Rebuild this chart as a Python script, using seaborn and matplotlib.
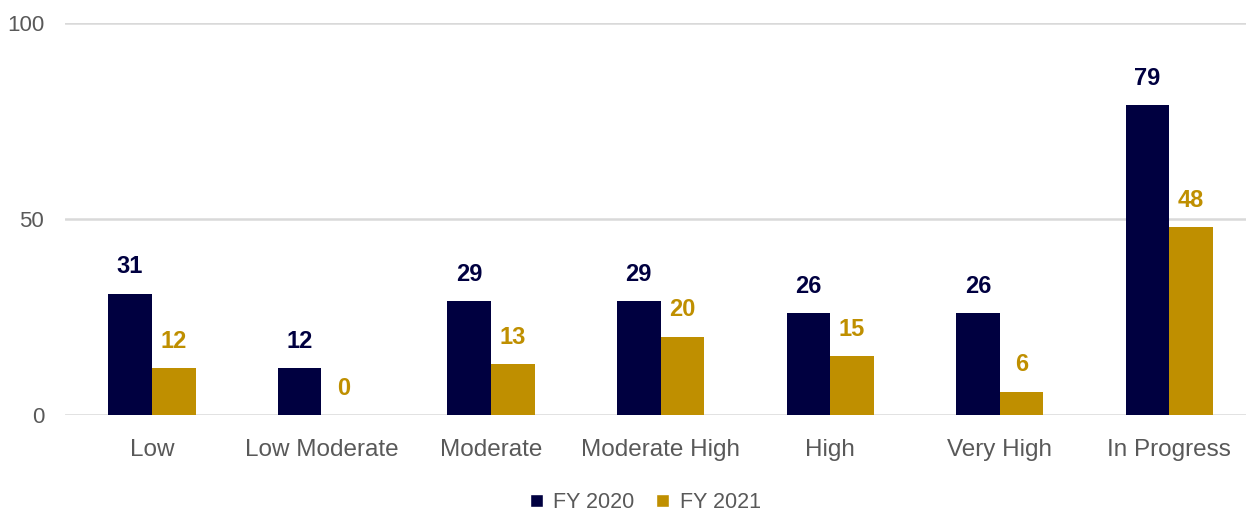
import matplotlib
matplotlib.use("Agg")
import matplotlib.pyplot as plt
import seaborn as sns
import pandas as pd
from matplotlib.patches import Patch

categories = ["Low", "Low Moderate", "Moderate", "Moderate High", "High", "Very High", "In Progress"]
fy2020 = [31, 12, 29, 29, 26, 26, 79]
fy2021 = [12, 0, 13, 20, 15, 6, 48]
series = ["FY 2020", "FY 2021"]
colors = ["#000040", "#BF8F00"]
yticks = [0, 50, 100]

df = pd.DataFrame({
    "category": categories * 2,
    "value": fy2020 + fy2021,
    "series": [series[0]] * len(categories) + [series[1]] * len(categories),
})

sns.set_theme(style="white")
plt.rcParams["font.family"] = ["Liberation Sans", "DejaVu Sans"]

fig = plt.figure(figsize=(12.48, 5.13), dpi=100)
ax = fig.add_axes([0.052, 0.191, 0.946, 0.764])

sns.barplot(data=df, x="category", y="value", hue="series", order=categories,
            hue_order=series, palette=colors, width=0.515, gap=0, saturation=1,
            ax=ax, legend=False, linewidth=0)

ax.set_ylim(0, 100)
ax.set_yticks(yticks)
ax.set_yticklabels([str(t) for t in yticks], color="#595959", fontsize=16)
ax.set_xlim(-0.513, 6.449)
ax.tick_params(axis="x", colors="#595959", labelsize=17.5, length=0, pad=17)
ax.tick_params(axis="y", length=0, pad=15)
ax.set_xlabel("")
ax.set_ylabel("")
for y in yticks:
    ax.axhline(y, color="#d9d9d9", linewidth=1.8, zorder=0)
for s in ax.spines.values():
    s.set_visible(False)

for cont, col in zip(ax.containers, colors):
    labels = [f"{v:.0f}" for v in cont.datavalues]
    ax.bar_label(cont, labels=labels, padding=11, color=col, fontsize=17,
                 fontweight="bold")

handles = [Patch(facecolor=c, label=s) for c, s in zip(colors, series)]
fig.legend(handles=handles, loc="center", bbox_to_anchor=(0.517, 0.02), ncol=2,
           frameon=False, fontsize=15.5, handlelength=0.6, handleheight=0.6,
           handletextpad=0.5, columnspacing=1.0, labelcolor="#595959")

fig.savefig("out.png", dpi=100)
